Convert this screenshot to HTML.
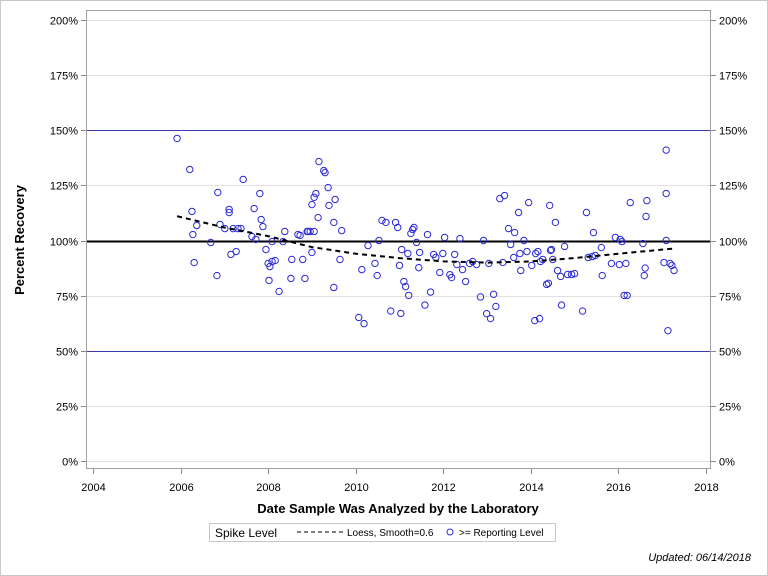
<!DOCTYPE html>
<html><head><meta charset="utf-8"><style>
html,body{margin:0;padding:0;background:#fff;}
svg{display:block;font-family:"Liberation Sans",Arial,sans-serif;}
</style></head><body>
<svg id="chart" width="768" height="576" viewBox="0 0 768 576">
<rect x="0.5" y="0.5" width="767" height="575" fill="#fff" stroke="#c8c8c8"/>
<g id="grid"></g>
<g id="axes"></g>
<g id="marks"></g>
<text x="0" y="0" transform="translate(24,240) rotate(-90)" text-anchor="middle" font-size="13" font-weight="bold">Percent Recovery</text>
<text x="398" y="513" text-anchor="middle" font-size="13" font-weight="bold">Date Sample Was Analyzed by the Laboratory</text>
<g>
<rect x="209.5" y="523.5" width="346" height="18" fill="#fff" stroke="#c8c8c8"/>
<text x="215" y="537" font-size="12">Spike Level</text>
<line x1="297" y1="532" x2="343" y2="532" stroke="#000" stroke-width="1" stroke-dasharray="4,3"/>
<text x="347" y="536" font-size="10">Loess, Smooth=0.6</text>
<circle cx="450" cy="532" r="3" fill="none" stroke="#2a2ad8"/>
<text x="459" y="536" font-size="10">&gt;= Reporting Level</text>
</g>
<text x="751" y="561" text-anchor="end" font-size="11" font-style="italic">Updated: 06/14/2018</text>
</svg>
<script>
const yTicks=[0,25,50,75,100,125,150,175,200];
const yTickLabels=["0%","25%","50%","75%","100%","125%","150%","175%","200%"];
const xTicks=[2004,2006,2008,2010,2012,2014,2016,2018];
const xTickLabels=["2004","2006","2008","2010","2012","2014","2016","2018"];
const pointYears=[2005.92,2006.21,2006.26,2006.28,2006.37,2006.31,2006.69,2006.83,2006.85,2006.90,2007.01,2007.11,2007.11,2007.15,2007.27,2007.20,2007.31,2007.38,2007.43,2007.63,2007.68,2007.72,2007.81,2007.84,2007.88,2007.95,2008.02,2008.00,2008.04,2008.09,2008.09,2008.16,2008.25,2008.34,2008.38,2008.52,2008.54,2008.68,2008.73,2008.79,2008.84,2008.89,2008.96,
2009.00,2009.05,2009.09,2009.16,2009.27,2009.30,2009.37,2009.14,2009.53,2009.39,2009.50,2009.68,2008.91,2009.05,2009.00,2009.64,2009.50,
2010.07,2010.14,2010.19,2010.28,2010.44,2010.49,2010.53,2010.60,2010.69,2010.80,2010.91,2010.96,2011.00,2011.03,2011.05,2011.10,2011.14,2011.19,2011.21,2011.26,2011.30,2011.33,2011.39,2011.44,2011.46,2011.58,2011.64,2011.71,2011.78,2011.83,2011.92,2011.99,2012.03,2012.15,2012.19,2012.26,2012.31,2012.38,2012.44,2012.51,2012.60,2012.67,2012.76,2012.85,2012.92,2012.99,2013.04,2013.08,2013.15,2013.20,2013.29,2013.36,2013.40,2013.49,2013.54,2013.61,2013.63,2013.72,2013.75,2013.77,2013.84,2013.91,2013.95,2014.02,2014.09,2014.11,2014.16,2014.20,2014.22,2014.27,2014.36,2014.40,2014.43,2014.45,2014.47,2014.50,2014.56,2014.61,2014.68,2014.70,2014.77,2014.84,2014.93,2015.00,2015.18,2015.27,2015.31,2015.40,2015.43,2015.47,2015.61,2015.63,2015.84,2015.93,2016.02,2016.04,2016.08,2016.13,2016.17,2016.20,2016.27,2016.56,2016.59,2016.61,2016.63,2016.65,2017.04,2017.09,2017.09,2017.09,2017.13,2017.18,2017.22,2017.27];
const pointValues=[146.3,132.2,113.2,102.7,106.8,90.0,99.1,84.1,121.8,107.3,105.4,114.1,112.7,93.7,95.0,105.4,105.4,105.4,127.7,101.8,114.5,100.5,121.3,109.5,106.3,95.9,81.9,89.6,88.2,90.5,99.5,90.9,76.9,99.5,104.1,82.8,91.4,102.7,102.3,91.4,82.8,104.1,104.1,
116.3,119.6,121.3,135.8,131.7,130.8,124.0,110.4,118.6,115.9,108.2,104.5,104.1,104.1,94.6,91.4,78.7,
65.1,86.8,62.3,97.7,89.6,84.1,100.0,109.1,108.2,68.0,108.2,105.9,88.7,66.9,95.9,81.4,79.1,94.1,75.1,103.2,105.0,105.9,99.1,87.7,94.6,70.7,102.7,76.6,93.7,92.3,85.5,94.1,101.4,84.5,83.2,93.7,89.1,100.9,86.8,81.4,89.6,90.5,89.1,74.4,100.0,66.8,89.6,64.6,75.6,70.1,119.0,90.0,120.4,105.4,98.2,92.3,103.6,112.7,94.1,86.4,100.0,95.0,117.2,88.7,63.7,94.1,95.0,64.6,90.5,91.4,80.1,80.6,115.9,95.5,95.9,91.4,108.2,86.4,83.7,70.7,97.3,84.6,84.6,85.0,68.0,112.7,92.3,92.7,103.6,93.2,96.8,84.1,89.6,101.4,89.1,100.5,99.5,75.1,89.6,75.1,117.2,98.6,84.1,87.5,110.9,118.1,90.0,100.0,121.3,141.0,59.1,89.6,88.7,86.4];
const loessYears=[2005.92,2007,2008,2009,2010,2011,2012,2013,2014,2015,2016,2017.3];
const loessValues=[111,105.9,102,97,94,92,90.5,90,90.5,92,94,96.4];

const NS="http://www.w3.org/2000/svg";
const L=86,R=711,T=10,B=469;
function xs(yr){return 93+(yr-2004)*(706-93)/14;}
function ys(v){return 461-v*(461-20)/200;}
function mk(tag,attrs,parent){const e=document.createElementNS(NS,tag);for(const k in attrs)e.setAttribute(k,attrs[k]);parent.appendChild(e);return e;}
const grid=document.getElementById('grid'),axes=document.getElementById('axes'),marks=document.getElementById('marks');

yTicks.forEach((v,i)=>{
  const y=Math.round(ys(v))+0.5;
  let col="#e0e0e0",w=1;
  if(v===50||v===150){col="#3a3ab0";w=1;}
  if(v===100){col="#000";w=2;}
  const g=mk('line',{x1:L,x2:R,y1:y,y2:y,stroke:col,'stroke-width':w},grid);
  
  
  const t1=mk('line',{x1:L-5,x2:L,y1:y,y2:y,stroke:'#888'},axes);
  
  
  const t2=mk('line',{x1:R,x2:R+5,y1:y,y2:y,stroke:'#888'},axes);
  
  
  const lb=mk('text',{x:L-8,y:y+4,'text-anchor':'end','font-size':11},axes);
  lb.textContent=yTickLabels[i];
  
  
  const rb=mk('text',{x:R+8,y:y+4,'font-size':11},axes);
  rb.textContent=yTickLabels[i];
  
  
});
const frame=mk('rect',{x:L+0.5,y:T+0.5,width:R-L-1,height:B-T-1,fill:'none',stroke:'#a0a0a0'},axes);


xTicks.forEach((yr,i)=>{
  const x=Math.round(xs(yr))+0.5;
  const t=mk('line',{x1:x,x2:x,y1:B,y2:B+5,stroke:'#888'},axes);
  
  
  const lb=mk('text',{x:x,y:B+22,'text-anchor':'middle','font-size':11},axes);
  lb.textContent=xTickLabels[i];
  
  
});
pointYears.forEach((yr,i)=>{
  const c=mk('circle',{cx:xs(yr),cy:ys(pointValues[i]),r:3.2,fill:'none',stroke:'#2a2ad8','stroke-width':1},marks);
  
  
});
const pts=loessYears.map((yr,i)=>xs(yr).toFixed(1)+','+ys(loessValues[i]).toFixed(1)).join(' ');
const lo=mk('polyline',{points:pts,fill:'none',stroke:'#000','stroke-width':2,'stroke-dasharray':'5,4'},marks);


</script>
</body></html>
